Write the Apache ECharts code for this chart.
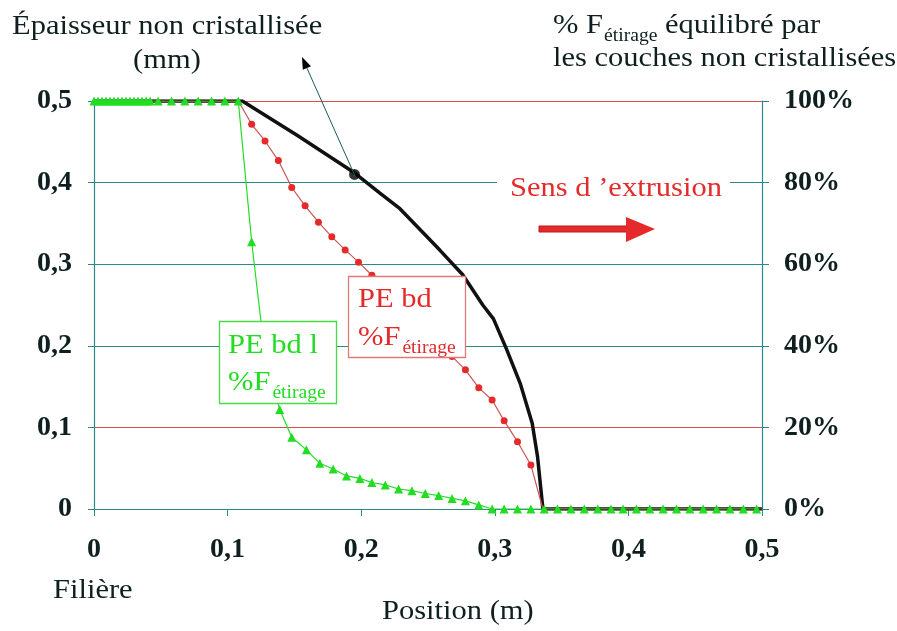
<!DOCTYPE html>
<html><head><meta charset="utf-8">
<script src="https://cdn.jsdelivr.net/npm/echarts@6/dist/echarts.min.js"></script>
<style>html,body{margin:0;padding:0;background:#fff}#c{width:897px;height:631px}</style>
</head><body><div id="c"></div>
<script>
// ---- data ----
const xTickLabels = ['0', '0,1', '0,2', '0,3', '0,4', '0,5'];
const leftTickLabels = ['0', '0,1', '0,2', '0,3', '0,4', '0,5'];
const rightTickLabels = ['0%', '20%', '40%', '60%', '80%', '100%'];

// Épaisseur non cristallisée (mm) - black curve, left axis
const posBlack = [0, 0.111, 0.152, 0.194, 0.214, 0.229, 0.259, 0.276, 0.291, 0.299, 0.309, 0.319, 0.328, 0.332, 0.336, 0.5];
const thickBlack = [0.5, 0.5, 0.458, 0.413, 0.387, 0.368, 0.317, 0.287, 0.250, 0.233, 0.195, 0.154, 0.105, 0.064, 0, 0];
const dotPos = [0.195];
const dotThick = [0.41];

// PE bd %F étirage - red, right axis (%)
const posRed = [0, 0.108, 0.118, 0.128, 0.138, 0.148, 0.158, 0.168, 0.178, 0.188, 0.198, 0.208, 0.218, 0.228, 0.238, 0.248, 0.258, 0.268, 0.278, 0.288, 0.298, 0.307, 0.317, 0.327, 0.336, 0.5];
const pctRed = [100, 100, 94.3, 90.2, 85.4, 78.8, 74.3, 70.3, 66.7, 63.5, 60.5, 57.3, 54.1, 50.9, 47.6, 44.2, 40.8, 37.4, 34.1, 29.7, 26.7, 21.6, 16.5, 10.8, 0, 0];
const redMarked = [false, false, true, true, true, true, true, true, true, true, true, true, true, true, true, true, true, true, true, true, true, true, true, true, false, false];

// PE bd l %F étirage - green, right axis (%)
const posGreen = [0, 0.003, 0.006, 0.009, 0.012, 0.015, 0.018, 0.021, 0.024, 0.027, 0.030, 0.033, 0.036, 0.039, 0.042,
  0.048, 0.058, 0.068, 0.078, 0.088, 0.098, 0.108,
  0.118, 0.128, 0.139, 0.148, 0.159, 0.169, 0.179, 0.189, 0.199, 0.208, 0.218, 0.228, 0.238, 0.248, 0.258, 0.268, 0.278, 0.288,
  0.298, 0.307, 0.317, 0.327, 0.337, 0.347, 0.357, 0.367, 0.377, 0.387, 0.396, 0.406, 0.416, 0.426, 0.436, 0.446, 0.456, 0.466, 0.476, 0.486, 0.496];
const pctGreen = [100, 100, 100, 100, 100, 100, 100, 100, 100, 100, 100, 100, 100, 100, 100,
  100, 100, 100, 100, 100, 100, 100,
  65.5, 37.5, 24.4, 17.6, 14.5, 11.2, 9.8, 8.1, 7.5, 6.5, 5.9, 4.9, 4.5, 3.8, 3.3, 2.6, 2.0, 1.0,
  0, 0, 0, 0, 0, 0, 0, 0, 0, 0, 0, 0, 0, 0, 0, 0, 0, 0, 0, 0, 0];

// ---- styling ----
const SERIF = '"Liberation Serif", "Times New Roman", serif';
const SX = 1.09;
const TEAL = '#2a8a8a';
const GRIDRED = '#d65050';
const INK = '#0f1f1f';
const RED = '#e42a2a';
const GREEN = '#22dd22';

const mctx = document.createElement('canvas').getContext('2d');
function tw(s, size) { mctx.font = size + 'px "Liberation Serif"'; return mctx.measureText(s).width * SX; }
function T(s, x, base, size, color, extra) {
  return Object.assign({
    type: 'text', x: x, y: base - size * 0.33, scaleX: SX, z: 120,
    style: { text: s, fontFamily: SERIF, fontSize: size, fill: color, align: 'left', verticalAlign: 'middle' }
  }, extra || {});
}

const chart = echarts.init(document.getElementById('c'), null, { renderer: 'canvas' });

const graphics = [];
// titles
graphics.push(T('Épaisseur non cristallisée', 12, 36, 28, INK));
graphics.push(T('(mm)', 133, 70, 28, INK));
let rx = 553;
graphics.push(T('% F', rx, 35, 28, INK)); rx += tw('% F', 28) + 1;
graphics.push(T('étirage', rx, 42, 18, INK)); rx += tw('étirage', 18);
graphics.push(T(' équilibré par', rx, 35, 28, INK));
graphics.push(T('les couches non cristallisées', 553, 68, 28, INK));
graphics.push(T('Filière', 53, 600, 28, INK));
graphics.push(T('Position (m)', 382, 621, 28, INK));

// Sens d'extrusion
graphics.push({ type: 'rect', z: 110, shape: { x: 497, y: 170, width: 233, height: 30 }, style: { fill: '#fff' } });
graphics.push(T('Sens d \u2019extrusion', 510, 198, 28, RED));
graphics.push({ type: 'rect', z: 110, shape: { x: 539, y: 226, width: 90, height: 6 }, style: { fill: RED, stroke: '#c01818', lineWidth: 1 } });
graphics.push({ type: 'polygon', z: 110, shape: { points: [[626, 217], [655, 229], [626, 242]] }, style: { fill: RED } });

// boxes
graphics.push({ type: 'rect', z: 110, shape: { x: 348.5, y: 276.5, width: 117, height: 81 }, style: { fill: '#fff', stroke: '#e07a7a', lineWidth: 1.3 } });
graphics.push(T('PE bd', 358, 309, 28, RED));
graphics.push(T('%F', 358, 347, 28, RED));
graphics.push(T('étirage', 358 + tw('%F', 28) + 2, 354, 18, RED));

graphics.push({ type: 'rect', z: 110, shape: { x: 219.5, y: 321.5, width: 117, height: 82 }, style: { fill: '#fff', stroke: '#44dd44', lineWidth: 1.3 } });
graphics.push(T('PE bd l', 228, 355, 28, GREEN));
graphics.push(T('%F', 228, 392, 28, GREEN));
graphics.push(T('étirage', 228 + tw('%F', 28) + 2, 399, 18, GREEN));

// pointer arrow from dot to title
(function () {
  const x0 = 355, y0 = 176, x1 = 302, y1 = 57;
  const dx = x1 - x0, dy = y1 - y0, L = Math.hypot(dx, dy), ux = dx / L, uy = dy / L;
  const hl = 12, hw = 4.5;
  const bx = x1 - hl * ux, by = y1 - hl * uy;
  graphics.push({ type: 'line', z: 105, shape: { x1: x0, y1: y0, x2: bx, y2: by }, style: { stroke: '#1e5a5a', lineWidth: 1 } });
  graphics.push({ type: 'polygon', z: 105, shape: { points: [[x1, y1], [bx - hw * uy, by + hw * ux], [bx + hw * uy, by - hw * ux]] }, style: { fill: '#000' } });
})();

function lbl(arr, step) { return function (v) { const i = Math.round(v / step); return arr[i] != null ? arr[i] : ''; }; }

const option = {
  backgroundColor: '#fff',
  animation: false,
  grid: { left: 94, right: 135, top: 101, bottom: 122 },
  xAxis: {
    type: 'value', min: 0, max: 0.5, interval: 0.1,
    axisLine: { show: true, lineStyle: { color: TEAL, width: 1.2 } },
    axisTick: { show: true, length: 7, lineStyle: { color: TEAL } },
    splitLine: { show: false },
    axisLabel: { formatter: lbl(xTickLabels, 0.1), fontFamily: SERIF, fontWeight: 'bold', fontSize: 28, color: INK, margin: 27 }
  },
  yAxis: [{
    type: 'value', min: 0, max: 0.5, interval: 0.1, position: 'left',
    axisLine: { show: true, lineStyle: { color: TEAL, width: 1.2 } },
    axisTick: { show: true, length: 6, lineStyle: { color: TEAL } },
    splitLine: { show: true, lineStyle: { color: [TEAL, GRIDRED, TEAL, TEAL, TEAL, GRIDRED], width: 1.2 } },
    axisLabel: { formatter: lbl(leftTickLabels, 0.1), fontFamily: SERIF, fontWeight: 'bold', fontSize: 28, color: INK, margin: 22 }
  }, {
    type: 'value', min: 0, max: 100, interval: 20, position: 'right',
    axisLine: { show: true, lineStyle: { color: TEAL, width: 1.2 } },
    axisTick: { show: true, length: 7, lineStyle: { color: TEAL } },
    splitLine: { show: false },
    axisLabel: { formatter: lbl(rightTickLabels, 20), fontFamily: SERIF, fontWeight: 'bold', fontSize: 28, color: INK, margin: 22 }
  }],
  series: [{
    name: 'Épaisseur', type: 'line', yAxisIndex: 0, z: 2,
    data: posBlack.map((x, i) => [x, thickBlack[i]]),
    showSymbol: false, symbol: 'none',
    lineStyle: { color: '#111', width: 3.5 }
  }, {
    name: 'point', type: 'scatter', yAxisIndex: 0, z: 6,
    data: dotPos.map((x, i) => [x, dotThick[i]]),
    symbol: 'circle', symbolSize: 11, itemStyle: { color: '#000' }
  }, {
    name: 'PE bd', type: 'line', yAxisIndex: 1, z: 3,
    data: posRed.map((x, i) => ({ value: [x, pctRed[i]], symbol: redMarked[i] ? 'circle' : 'none' })),
    symbol: 'circle', symbolSize: 7, showAllSymbol: true,
    lineStyle: { color: '#cc5555', width: 1.2 },
    itemStyle: { color: RED, borderWidth: 0 }
  }, {
    name: 'PE bd l', type: 'line', yAxisIndex: 1, z: 4,
    data: posGreen.map((x, i) => [x, pctGreen[i]]),
    symbol: 'triangle', symbolSize: 9, showAllSymbol: true,
    lineStyle: { color: GREEN, width: 1.2 },
    itemStyle: { color: GREEN, borderWidth: 0 }
  }],
  graphic: graphics
};
chart.setOption(option);
</script></body></html>
